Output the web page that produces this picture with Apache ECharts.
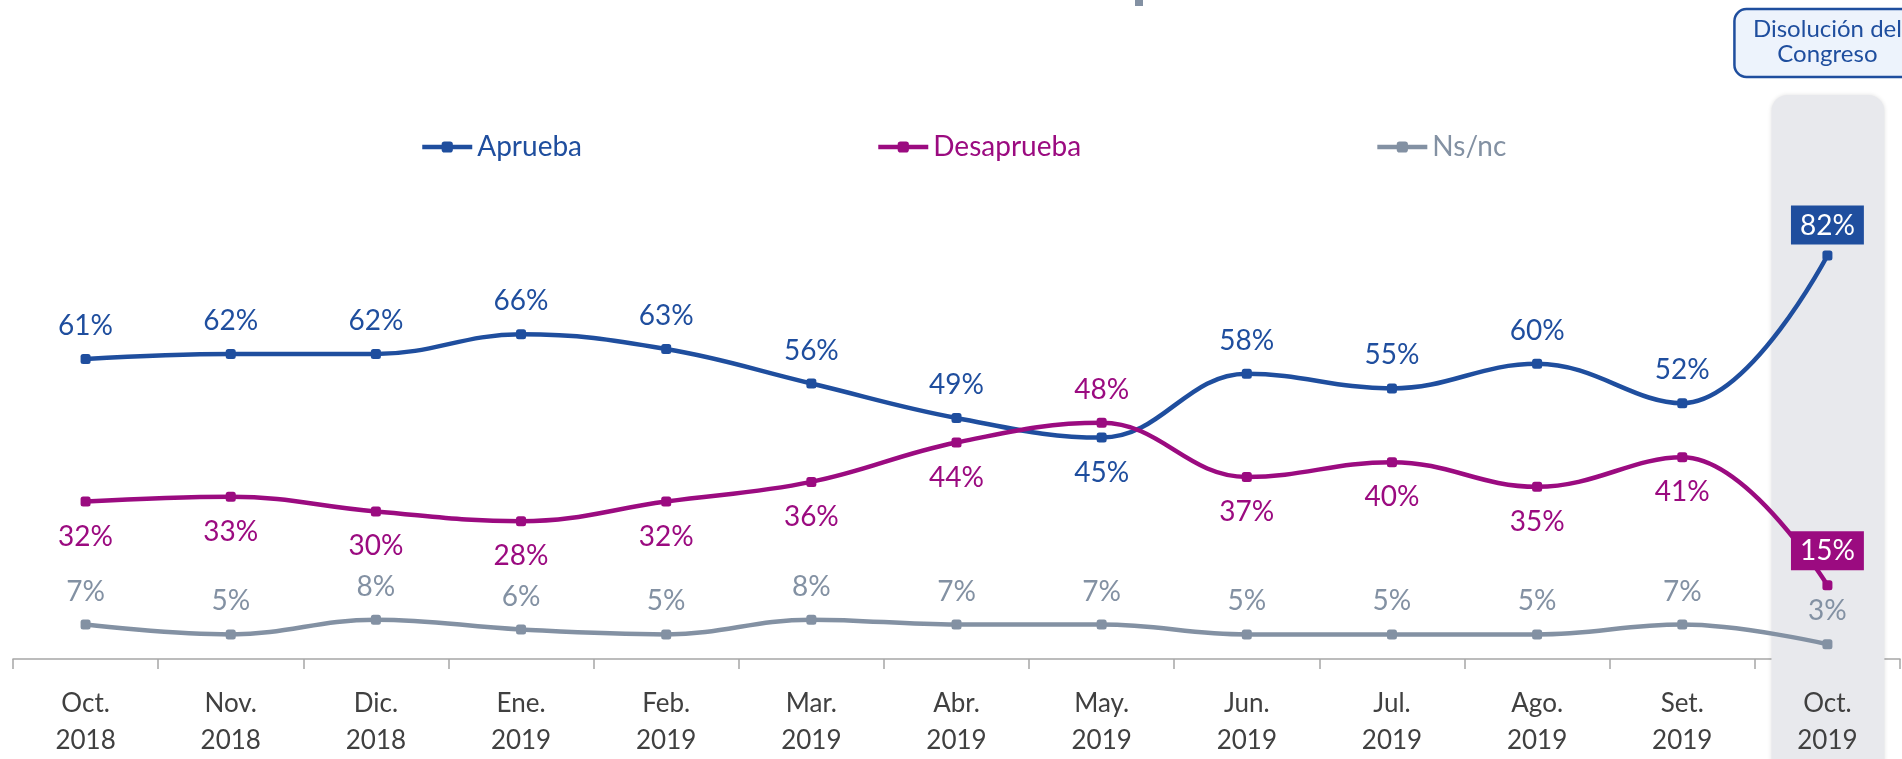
<!DOCTYPE html>
<html>
<head>
<meta charset="utf-8">
<script src="https://cdn.jsdelivr.net/npm/echarts@6/dist/echarts.min.js"></script>
<style>
  html, body { margin: 0; padding: 0; background: #fff; }
  #chart { width: 1902px; height: 759px; }
</style>
</head>
<body>
<div id="chart"></div>
<script>
const categories = ['Oct.\n2018', 'Nov.\n2018', 'Dic.\n2018', 'Ene.\n2019', 'Feb.\n2019', 'Mar.\n2019',
  'Abr.\n2019', 'May.\n2019', 'Jun.\n2019', 'Jul.\n2019', 'Ago.\n2019', 'Set.\n2019', 'Oct.\n2019'];
const aprueba = [61, 62, 62, 66, 63, 56, 49, 45, 58, 55, 60, 52, 82];
const desaprueba = [32, 33, 30, 28, 32, 36, 44, 48, 37, 40, 35, 41, 15];
const nsnc = [7, 5, 8, 6, 5, 8, 7, 7, 5, 5, 5, 7, 3];
const seriesNames = ['Aprueba', 'Desaprueba', 'Ns/nc'];
const eventText = 'Disolución del\nCongreso';

const BLUE = '#1f4e9e';
const MAGENTA = '#9b0b80';
const GRAY = '#8391a3';
const FONT = 'Lato';

const chart = echarts.init(document.getElementById('chart'));

// label above or below each point, last point gets a filled box
function buildData(values, color, flipped, defaultPos) {
  const last = values.length - 1;
  return values.map((v, i) => {
    if (i === last && color !== GRAY) {
      return {
        value: v,
        label: {
          position: 'top',
          distance: color === BLUE ? 6 : 10,
          color: '#fff',
          backgroundColor: color,
          padding: [6, 9, 5, 9]
        }
      };
    }
    const pos = flipped.includes(i) ? (defaultPos === 'top' ? 'bottom' : 'top') : defaultPos;
    return {
      value: v,
      label: { position: pos, distance: pos === 'top' ? 14 : 16 }
    };
  });
}

function lineSeries(name, values, color, flipped, defaultPos) {
  return {
    name: name,
    type: 'line',
    smooth: 0.4,
    symbol: 'roundRect',
    symbolSize: 10,
    lineStyle: { width: 4.5, color: color },
    itemStyle: { color: color },
    label: {
      show: true,
      formatter: '{c}%',
      fontFamily: FONT,
      fontSize: 28,
      color: color
    },
    z: 4,
    data: buildData(values, color, flipped, defaultPos)
  };
}

const option = {
  backgroundColor: '#fff',
  animation: false,
  textStyle: { fontFamily: FONT },
  legend: {
    left: 415,
    top: 128,
    itemGap: 294,
    itemWidth: 50,
    itemHeight: 14,
    lineStyle: { width: 4.5 },
    textStyle: { fontSize: 28, fontFamily: FONT },
    data: [
      { name: seriesNames[0], textStyle: { color: BLUE } },
      { name: seriesNames[1], textStyle: { color: MAGENTA } },
      { name: seriesNames[2], textStyle: { color: GRAY } }
    ]
  },
  grid: { left: 13, right: 2, top: 167, bottom: 95 },
  xAxis: [
    {
      type: 'category',
      data: categories,
      boundaryGap: true,
      position: 'bottom',
      z: 0,
      axisLine: { lineStyle: { color: '#a6a6a6', width: 1.5 } },
      axisTick: { show: true, length: 10, lineStyle: { color: '#a6a6a6', width: 1.5 } },
      axisLabel: { show: false }
    },
    {
      type: 'category',
      data: categories,
      boundaryGap: true,
      position: 'bottom',
      z: 5,
      axisLine: { show: false },
      axisTick: { show: false },
      axisLabel: {
        margin: 26,
        fontFamily: FONT,
        fontSize: 26,
        lineHeight: 37,
        color: '#404040'
      }
    }
  ],
  yAxis: { type: 'value', min: 0, max: 100, show: false },
  series: [
    lineSeries(seriesNames[0], aprueba, BLUE, [7], 'top'),
    lineSeries(seriesNames[1], desaprueba, MAGENTA, [7], 'bottom'),
    lineSeries(seriesNames[2], nsnc, GRAY, [], 'top')
  ]
};

chart.setOption(option);

// highlight column behind the last month, placed from the category axis
const colX = chart.convertToPixel({ xAxisIndex: 0 }, categories[categories.length - 1]);
chart.setOption({
  graphic: [
    {
      type: 'rect',
      z: 1,
      shape: { x: colX - 56, y: 95, width: 113, height: 700, r: 16 },
      style: { fill: '#e8e9ed', shadowBlur: 4, shadowColor: 'rgba(0,0,0,0.12)' }
    },
    {
      type: 'rect',
      z: 6,
      shape: { x: colX - 93, y: 9, width: 186, height: 68, r: 12 },
      style: { fill: '#edf3fc', stroke: BLUE, lineWidth: 2.5 }
    },
    {
      type: 'text',
      z: 7,
      x: colX,
      y: 42,
      style: {
        text: eventText,
        fill: BLUE,
        font: '24px Lato',
        lineHeight: 25,
        align: 'center',
        verticalAlign: 'middle'
      }
    },
    {
      type: 'rect',
      z: 6,
      shape: { x: 1135, y: 0, width: 8, height: 6 },
      style: { fill: GRAY }
    }
  ]
});
</script>
</body>
</html>
